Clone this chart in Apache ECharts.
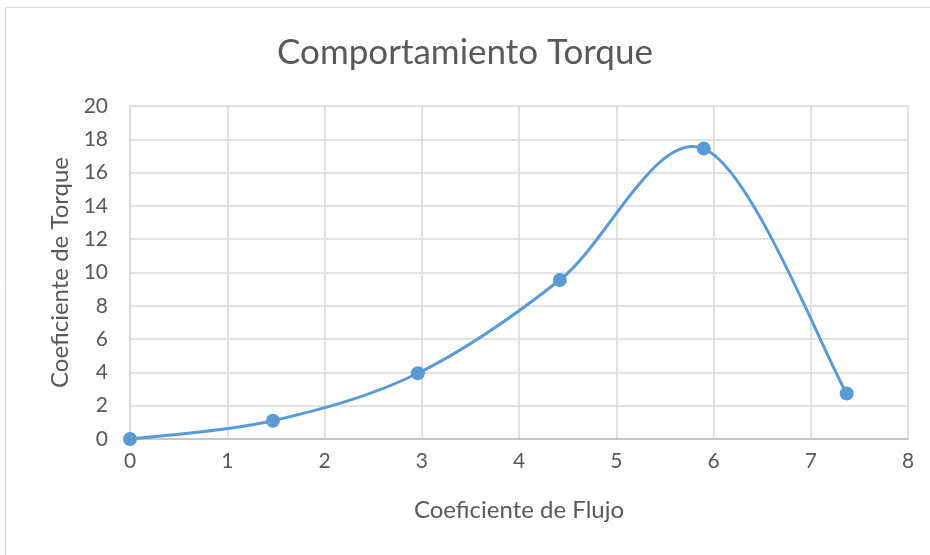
<!DOCTYPE html>
<html>
<head>
<meta charset="utf-8">
<script src="https://cdn.jsdelivr.net/npm/echarts@6/dist/echarts.min.js"></script>
<style>
  html, body { margin: 0; padding: 0; background: #fff; }
  #chart { width: 930px; height: 555px; }
</style>
</head>
<body>
<div id="chart"></div>
<script>
// Flow coefficient (x) and torque coefficient (y)
const flowCoef = [0, 1.47, 2.96, 4.42, 5.90, 7.37];
const torqueCoef = [0, 1.10, 3.95, 9.55, 17.44, 2.73];

const xTicks = [0, 1, 2, 3, 4, 5, 6, 7, 8];
const yTicks = [0, 2, 4, 6, 8, 10, 12, 14, 16, 18, 20];

const titleText = 'Comportamiento Torque';
const xName = 'Coeficiente de Flujo';
const yName = 'Coeficiente de Torque';

const font = 'Lato, "Open Sans", sans-serif';
const textColor = '#595959';
const lineColor = '#5b9bd5';

const points = flowCoef.map((x, i) => [x, torqueCoef[i]]);
const last = points.length - 1;

// Smoothed segment from point i to i+1 (Catmull-Rom style bezier, ends clamped)
function renderSegment(params, api) {
  const i = params.dataIndex;
  if (i >= last) return null;
  const P = (j) => api.coord(points[Math.max(0, Math.min(last, j))]);
  const p0 = P(i - 1), p1 = P(i), p2 = P(i + 1), p3 = P(i + 2);
  return {
    type: 'bezierCurve',
    shape: {
      x1: p1[0], y1: p1[1],
      cpx1: p1[0] + (p2[0] - p0[0]) / 6, cpy1: p1[1] + (p2[1] - p0[1]) / 6,
      cpx2: p2[0] - (p3[0] - p1[0]) / 6, cpy2: p2[1] - (p3[1] - p1[1]) / 6,
      x2: p2[0], y2: p2[1]
    },
    style: { stroke: lineColor, lineWidth: 3, fill: null, lineCap: 'round' }
  };
}

const chart = echarts.init(document.getElementById('chart'), null, { renderer: 'canvas' });

chart.setOption({
  backgroundColor: '#ffffff',
  animation: false,
  title: {
    text: titleText,
    left: 'center',
    top: 30,
    textStyle: { fontFamily: font, fontSize: 35, fontWeight: 'normal', color: textColor }
  },
  graphic: [{
    type: 'rect',
    shape: { x: 5.5, y: 7.5, width: 940, height: 560 },
    style: { fill: 'none', stroke: '#d9d9d9', lineWidth: 1 },
    silent: true
  }],
  grid: { left: 130, right: 22, top: 106, bottom: 116, containLabel: false },
  xAxis: {
    type: 'value',
    min: xTicks[0],
    max: xTicks[xTicks.length - 1],
    interval: 1,
    name: xName,
    nameLocation: 'middle',
    nameGap: 59,
    nameTextStyle: { fontFamily: font, fontSize: 24, color: textColor },
    axisLine: { show: true, onZero: false, lineStyle: { color: '#bfbfbf', width: 1.5 } },
    axisTick: { show: false },
    axisLabel: { fontFamily: font, fontSize: 21, color: textColor, margin: 12 },
    splitLine: { show: true, lineStyle: { color: '#d9d9d9', width: 1.5 } }
  },
  yAxis: {
    type: 'value',
    min: yTicks[0],
    max: yTicks[yTicks.length - 1],
    interval: 2,
    name: yName,
    nameLocation: 'middle',
    nameGap: 56,
    nameTextStyle: { fontFamily: font, fontSize: 24, color: textColor },
    axisLine: { show: true, lineStyle: { color: '#d9d9d9', width: 1.5 } },
    axisTick: { show: false },
    axisLabel: { fontFamily: font, fontSize: 21, color: textColor, margin: 22 },
    splitLine: { show: true, lineStyle: { color: '#d9d9d9', width: 1.5 } }
  },
  series: [{
    type: 'custom',
    coordinateSystem: 'cartesian2d',
    data: points,
    encode: { x: 0, y: 1 },
    renderItem: renderSegment,
    silent: true,
    z: 2
  }, {
    type: 'scatter',
    data: points,
    symbol: 'circle',
    symbolSize: 14,
    itemStyle: { color: lineColor, opacity: 1 },
    z: 3
  }]
});
</script>
</body>
</html>
